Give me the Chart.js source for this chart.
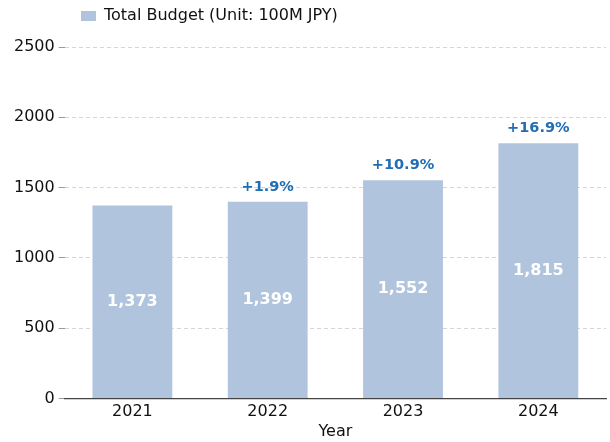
<!DOCTYPE html>
<html>
<head>
<meta charset="utf-8">
<script src="https://cdn.jsdelivr.net/npm/chart.js@4.4.0/dist/chart.umd.min.js"></script>
<style>
  html, body { margin: 0; padding: 0; background: #fff; }
  #wrap { width: 610px; height: 442px; }
</style>
</head>
<body>
<div id="wrap"><canvas id="chart"></canvas></div>
<script>
const years = ['2021', '2022', '2023', '2024'];
const budget = [1373, 1399, 1552, 1815];
const growth = ['', '+1.9%', '+10.9%', '+16.9%'];
const yTicks = [0, 500, 1000, 1500, 2000, 2500];

const FONT = "'DejaVu Sans', sans-serif";

// labels inside bars and growth rate above them
const barLabels = {
  id: 'barLabels',
  afterLayout(chart) {
    // legend sits above the plot, starting near the y axis
    chart.legend.left = 67;
    chart.legend.top -= 13;
  },
  afterDatasetsDraw(chart) {
    const ctx = chart.ctx;
    const meta = chart.getDatasetMeta(0);
    ctx.save();
    ctx.textAlign = 'center';
    ctx.textBaseline = 'middle';
    meta.data.forEach((bar, i) => {
      const mid = (bar.y + bar.base) / 2;
      ctx.fillStyle = '#ffffff';
      ctx.font = 'bold 16px ' + FONT;
      ctx.fillText(budget[i].toLocaleString('en-US'), bar.x, mid);
      if (growth[i]) {
        ctx.fillStyle = '#1f6db3';
        ctx.font = 'bold 14.5px ' + FONT;
        ctx.fillText(growth[i], bar.x, bar.y - 15);
      }
    });
    ctx.restore();
  }
};

new Chart(document.getElementById('chart'), {
  type: 'bar',
  data: {
    labels: years,
    datasets: [{
      label: 'Total Budget (Unit: 100M JPY)',
      data: budget,
      backgroundColor: '#b0c4de',
      borderWidth: 0,
      barPercentage: 0.59,
      categoryPercentage: 1.0
    }]
  },
  options: {
    responsive: true,
    maintainAspectRatio: false,
    animation: false,
    layout: { padding: { left: 10, right: 4, top: 7, bottom: 0 } },
    plugins: {
      legend: {
        position: 'top',
        align: 'start',
        labels: {
          boxWidth: 15,
          boxHeight: 10,
          padding: 14,
          color: '#111',
          font: { family: FONT, size: 16 }
        }
      },
      tooltip: { enabled: false }
    },
    scales: {
      x: {
        grid: { display: false, drawTicks: true, tickLength: 4, tickColor: '#333' },
        border: { display: true, color: '#444', width: 1.2 },
        ticks: { color: '#111', font: { family: FONT, size: 16 }, padding: 0 },
        title: {
          display: true, text: 'Year', color: '#111',
          font: { family: FONT, size: 16 }, padding: { top: 0, bottom: 1 }
        }
      },
      y: {
        min: 0,
        max: 2500,
        afterBuildTicks(axis) { axis.ticks = yTicks.map(v => ({ value: v })); },
        afterFit(axis) { axis.paddingTop = 0; },
        grid: {
          color: '#d6d6d6',
          tickColor: '#999',
          tickLength: 6,
          drawTicks: true
        },
        border: { display: false, dash: [4, 3] },
        ticks: {
          color: '#111',
          font: { family: FONT, size: 16 },
          padding: 4,
          callback: v => String(v)
        }
      }
    }
  },
  plugins: [barLabels]
});
</script>
</body>
</html>
